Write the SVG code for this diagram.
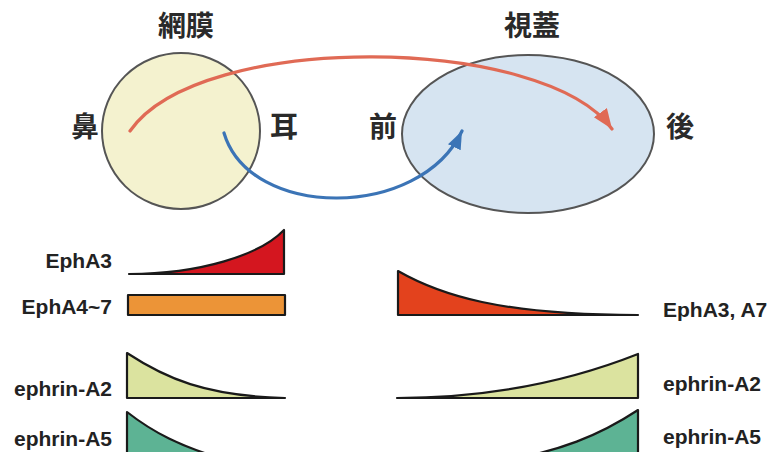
<svg xmlns="http://www.w3.org/2000/svg" width="773" height="452" viewBox="0 0 773 452">
<style>
.cjk{font-family:"Noto Sans CJK JP","Noto Sans CJK SC",sans-serif;font-size:28px;font-weight:bold;fill:#2a2a2a;text-anchor:middle}
.lbl{font-family:"Liberation Sans",Arial,sans-serif;font-size:21px;font-weight:bold;fill:#222}
.prof{stroke:#1a1a1a;stroke-width:2.2;stroke-linejoin:round}
</style>
<defs>
<marker id="ahR" markerUnits="userSpaceOnUse" markerWidth="24" markerHeight="20" refX="20" refY="8" orient="auto"><path d="M0,0 L20,8 L0,16 Z" fill="#e06a55"/></marker>
<marker id="ahB" markerUnits="userSpaceOnUse" markerWidth="24" markerHeight="20" refX="18" refY="7" orient="auto"><path d="M0,0 L18,7 L0,14 Z" fill="#3b74b6"/></marker>
</defs>
<rect width="773" height="452" fill="#ffffff"/>
<g id="retina">
<ellipse cx="181" cy="131" rx="79" ry="78" fill="#f4f2cf" stroke="#555" stroke-width="2"/>
<text class="cjk" x="186" y="36">網膜</text>
</g>
<g id="tectum">
<ellipse cx="528" cy="134" rx="126" ry="79" fill="#d6e4f1" stroke="#555" stroke-width="2"/>
<text class="cjk" x="532" y="36">視蓋</text>
</g>
<g id="axis-labels">
<text class="cjk" x="85" y="137">鼻</text>
<text class="cjk" x="284" y="137">耳</text>
<text class="cjk" x="383" y="137">前</text>
<text class="cjk" x="680" y="137">後</text>
</g>
<g id="connectors" fill="none" stroke-width="3.2" stroke-linecap="round">
<path d="M130,131 C200,30 545,35 612,129" stroke="#e06a55" marker-end="url(#ahR)"/>
<path d="M224,133 C250,220 420,220 462,131" stroke="#3b74b6" marker-end="url(#ahB)"/>
</g>
<g id="left-profiles">
<g id="EphA3-left">
<path class="prof" d="M129,274 C200,274 260,255 284,230 L284,274 Z" fill="#d4161f"/>
<text class="lbl" x="112" y="268" text-anchor="end">EphA3</text>
</g>
<g id="EphA4-7">
<rect class="prof" x="128" y="295" width="157" height="20" fill="#ec9437"/>
<text class="lbl" x="112" y="314" text-anchor="end">EphA4~7</text>
</g>
<g id="ephrinA2-left">
<path class="prof" d="M127,398 L127,353 C165,378 205,396 285,398 Z" fill="#dbe39f"/>
<text class="lbl" x="112" y="396" text-anchor="end">ephrin-A2</text>
</g>
<g id="ephrinA5-left">
<path class="prof" d="M127,460 L127,412 C150,430 180,448 235,462 Z" fill="#5db394"/>
<text class="lbl" x="112" y="446" text-anchor="end">ephrin-A5</text>
</g>
</g>
<g id="right-profiles">
<g id="EphA3A7-right">
<path class="prof" d="M398,315 L398,271 C440,295 500,315 638,315 Z" fill="#e3421d"/>
<text class="lbl" x="663" y="317">EphA3, A7</text>
</g>
<g id="ephrinA2-right">
<path class="prof" d="M397,398 C500,398 580,377 638,354 L638,398 Z" fill="#dbe39f"/>
<text class="lbl" x="663" y="391">ephrin-A2</text>
</g>
<g id="ephrinA5-right">
<path class="prof" d="M638,462 L638,410 C600,435 560,452 495,462 Z" fill="#5db394"/>
<text class="lbl" x="663" y="444">ephrin-A5</text>
</g>
</g>
</svg>
